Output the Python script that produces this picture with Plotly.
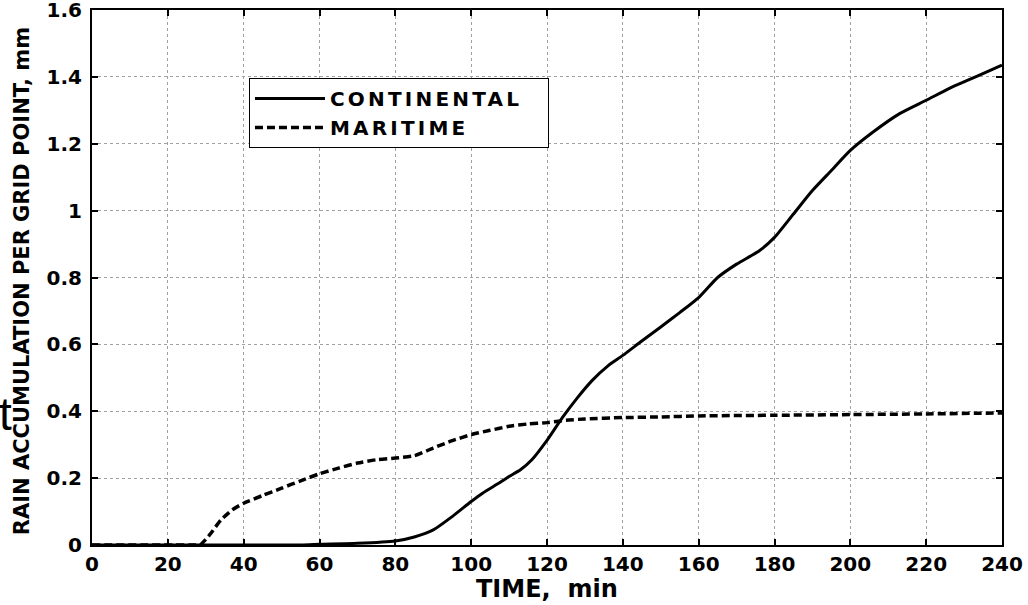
import plotly.graph_objects as go

# Continental run (solid)
cont_time = [0, 55, 60, 70, 80, 85, 90, 95, 100, 103, 107, 110, 113, 116, 120, 124, 128, 132, 136,
             140, 145, 150, 155, 160, 165, 170, 176, 180, 185, 190, 195, 200, 206, 213, 220, 226,
             231, 236, 240]
cont_rain = [0, 0, 0.002, 0.005, 0.012, 0.024, 0.045, 0.085, 0.13, 0.155, 0.183, 0.205, 0.225,
             0.255, 0.313, 0.38, 0.44, 0.493, 0.535, 0.567, 0.61, 0.652, 0.695, 0.74, 0.8, 0.84,
             0.88, 0.92, 0.99, 1.06, 1.12, 1.18, 1.235, 1.29, 1.33, 1.365, 1.39, 1.415, 1.435]

# Maritime run (dashed)
mar_time = [0, 27, 28.5, 31, 34, 37, 40, 45, 50, 55, 60, 65, 70, 75, 80, 85, 90, 95, 100, 105,
            110, 115, 120, 125, 130, 140, 150, 160, 180, 200, 220, 240]
mar_rain = [0, 0, 0.0, 0.03, 0.075, 0.105, 0.125, 0.148, 0.17, 0.192, 0.213, 0.23, 0.245, 0.255,
            0.26, 0.267, 0.29, 0.312, 0.33, 0.343, 0.355, 0.362, 0.366, 0.373, 0.377, 0.381,
            0.383, 0.386, 0.388, 0.39, 0.392, 0.395]

series_names = ["CONTINENTAL", "MARITIME"]

x_ticks = list(range(0, 241, 20))
y_ticks = [0, 0.2, 0.4, 0.6, 0.8, 1.0, 1.2, 1.4, 1.6]
y_tick_text = ["0", "0.2", "0.4", "0.6", "0.8", "1", "1.2", "1.4", "1.6"]

FONT = "DejaVu Sans, Liberation Sans, Arial, sans-serif"


def spaced(s, px=3.2, pad=True):
    tail = "\u00a0\u00a0" if pad else ""
    return f'<span style="letter-spacing:{px}px">{s}{tail}</span>'


fig = go.Figure()
fig.add_trace(go.Scatter(x=cont_time, y=cont_rain, mode="lines", name=spaced(series_names[0]),
                         line=dict(color="black", width=3, shape="spline", smoothing=0.6)))
fig.add_trace(go.Scatter(x=mar_time, y=mar_rain, mode="lines", name=spaced(series_names[1]),
                         line=dict(color="black", width=3.5, dash="8px,4px", shape="spline",
                                   smoothing=0.6)))

axis_common = dict(showline=True, linecolor="black", linewidth=2, mirror="ticks",
                   ticks="inside", ticklen=6, tickwidth=1.5, tickcolor="black",
                   showgrid=True, gridcolor="#a0a0a0", gridwidth=1, griddash="dot",
                   zeroline=False, automargin=False, ticklabeloverflow="allow",
                   tickfont=dict(family=FONT, size=20, color="black", weight="bold"))

fig.update_xaxes(range=[0, 240], tickvals=x_ticks, ticklabelstandoff=0, **axis_common)
fig.update_yaxes(range=[0, 1.6], tickvals=y_ticks, ticktext=y_tick_text,
                 ticklabelstandoff=4, **axis_common)

fig.update_layout(
    width=1028, height=605,
    margin=dict(l=92, r=26, t=10, b=60, autoexpand=False),
    paper_bgcolor="white", plot_bgcolor="white",
    showlegend=True,
    legend=dict(x=0.1725, y=0.873, xanchor="left", yanchor="top",
                bgcolor="white", bordercolor="black", borderwidth=1,
                font=dict(family=FONT, size=20, color="black", weight="bold"),
                tracegroupgap=0, itemwidth=70),
    annotations=[
        dict(text="RAIN ACCUMULATION PER GRID POINT, mm", textangle=-90,
             xref="paper", yref="paper", x=-0.077, y=0.493, xanchor="center", yanchor="middle",
             showarrow=False, font=dict(family=FONT, size=21, color="black", weight="bold")),
        dict(text="TIME,  min", xref="paper", yref="paper", x=0.5, y=-0.082,
             xanchor="center", yanchor="middle", showarrow=False,
             font=dict(family=FONT, size=24, color="black", weight="bold")),
        dict(text="t", xref="paper", yref="paper", x=-0.1045, y=0.245,
             xanchor="left", yanchor="middle", showarrow=False,
             font=dict(family="Liberation Sans, Arial, sans-serif", size=46, color="black")),
    ],
)

fig.write_html("out.html")
